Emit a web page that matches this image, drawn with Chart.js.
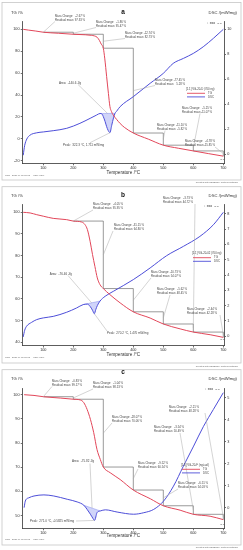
<!DOCTYPE html>
<html><head><meta charset="utf-8">
<script src="https://cdn.jsdelivr.net/npm/chart.js@4.4.1/dist/chart.umd.min.js"></script>
<style>
html,body{margin:0;padding:0;background:#fff;width:243px;height:550px;overflow:hidden;}
canvas{display:block;}
</style></head><body>
<canvas id="ca" width="243" height="185"></canvas>
<canvas id="cb" width="243" height="183"></canvas>
<canvas id="cc" width="243" height="182"></canvas>
<script>
// ---------- shared ticks ----------
const xTicks = [100, 200, 300, 400, 500, 600, 700];

// ---------- panel a ----------
const tgTempA = [33, 50, 75, 100, 150, 200, 240, 260, 270, 280, 287, 293, 300, 305, 311, 317, 322, 327, 333, 345, 356, 370, 400, 450, 500, 550, 600, 650, 700];
const tgA     = [100, 99.3, 98.4, 97.33, 96.4, 95.47, 95.0, 94.5, 94.0, 92.6, 89.8, 86.5, 82.73, 73, 57, 41.5, 29.5, 25, 21.8, 17.5, 14, 10.5, 5.28, -0.3, -5.82, -8.6, -11.07, -13.5, -15.85];
const dscTempA = [33, 38, 45, 55, 78, 100, 133, 178, 222, 256, 278, 289, 295, 300, 306, 311, 316, 322, 328, 334, 339, 345, 356, 400, 456, 500, 533, 567, 600, 633, 667, 700];
const dscA     = [-0.1, 0.7, 1.2, 1.5, 1.7, 1.77, 1.87, 2.06, 2.46, 2.86, 3.13, 3.25, 3.22, 3.0, 2.6, 2.2, 1.9, 1.71, 2.3, 2.9, 3.26, 3.45, 3.8, 4.6, 5.67, 6.47, 7.27, 7.67, 8.07, 8.6, 9.28, 10.0];
const stepTempA = [100, 200, 300, 400, 500, 600, 700];
const residA = [97.33, 95.47, 82.73, 5.28, -5.82, -11.07, -15.85];
const massChangeA = [-2.67, -1.86, -12.74, -77.45, -11.10, -5.25, -4.78];
const areaRangeA = [289, 339];
const areaA = -140.6;
const peakA = [322.3, 1.711];
const yTicksA = [-20, 0, 20, 40, 60, 80, 100];
const y2TicksA = [0, 2, 4, 6, 8, 10];

// ---------- panel b ----------
const tgTempB = [33, 56, 78, 100, 133, 178, 200, 228, 239, 247, 256, 264, 272, 280, 289, 300, 322, 356, 400, 456, 500, 556, 600, 656, 700];
const tgB     = [100, 99.7, 98.9, 98.2, 97.2, 96.6, 95.95, 95.5, 94.3, 92, 86.6, 80.5, 75, 69.7, 66.6, 64.8, 62, 58.2, 54.07, 51.2, 48.45, 46.2, 44.72, 43.5, 42.28];
const dscTempB = [33, 38, 44, 61, 78, 100, 133, 178, 211, 233, 247, 256, 264, 270, 275, 280, 289, 306, 333, 400, 456, 511, 567, 622, 667, 700];
const dscB     = [-0.04, 0.4, 0.65, 0.91, 1.09, 1.2, 1.3, 1.57, 1.85, 2.07, 2.1, 1.95, 1.7, 1.47, 1.75, 2.0, 2.3, 2.61, 2.93, 3.7, 4.46, 5.26, 5.87, 6.52, 7.28, 8.09];
const stepTempB = [200, 300, 400, 500, 600, 700];
const residB = [95.95, 64.80, 54.07, 48.45, 44.72, 42.28];
const massChangeB = [-4.05, -31.15, -10.73, -5.62, -3.73, -2.44];
const areaRangeB = [233, 289];
const areaB = -76.46;
const peakB = [270.2, 1.470];
const yTicksB = [40, 50, 60, 70, 80, 90, 100];
const y2TicksB = [0, 1, 2, 3, 4, 5, 6, 7, 8];

// ---------- panel c ----------
const tgTempC = [36, 69, 100, 158, 200, 224, 235, 246, 257, 268, 279, 290, 300, 323, 356, 400, 457, 500, 556, 600, 656, 700];
const tgC     = [100, 99.7, 99.17, 98.6, 98.13, 97.8, 96.7, 93.9, 89.8, 84.3, 77.3, 73.2, 70.06, 67.7, 64.9, 60.54, 56.9, 54.03, 52.2, 50.49, 49.7, 48.28];
const dscTempC = [36, 40, 52, 69, 102, 135, 180, 213, 235, 246, 257, 265, 271, 279, 290, 307, 346, 401, 435, 468, 501, 534, 567, 601, 634, 667, 700];
const dscC     = [0.0, 0.3, 0.45, 0.53, 0.58, 0.53, 0.38, 0.26, 0.11, -0.08, -0.3, -0.48, -0.58, -0.23, -0.15, -0.1, -0.2, -0.3, -0.23, -0.08, 0.3, 0.98, 1.89, 2.8, 3.7, 4.47, 5.23];
const stepTempC = [100, 200, 300, 400, 500, 600, 700];
const residC = [99.17, 98.13, 70.06, 60.54, 54.03, 50.49, 48.28];
const massChangeC = [-0.83, -1.04, -28.07, -9.52, -6.51, -3.54, -2.21];
const areaRangeC = [235, 290];
const areaC = -75.82;
const peakC = [271.0, -0.5825];
const yTicksC = [50, 60, 70, 80, 90, 100];
const y2TicksC = [0, 1, 2, 3, 4, 5];

// ---------- styling ----------
const FONT = '"Liberation Sans", Arial, sans-serif';
const RED = '#e2475a', BLUE = '#4d4ed8', AXIS = '#333';

const pts = (xs, ys) => xs.map((x, i) => ({x: x, y: ys[i]}));

function extras(d, g) {
  return {
    id: 'extras' + d.letter,
    afterDraw(chart) {
      const ctx = chart.ctx, sx = chart.scales.x, sy = chart.scales.y, sy2 = chart.scales.y2;
      const X = v => sx.getPixelForValue(v), Y = v => sy.getPixelForValue(v), Y2 = v => sy2.getPixelForValue(v);
      ctx.save();
      ctx.strokeStyle = '#c6c6c6'; ctx.lineWidth = 0.8;
      ctx.strokeRect(g.box[0], g.box[1], g.box[2], g.box[3]);
      const txt = (s, x, y, size, align, color, bold) => {
        ctx.font = (bold ? 'bold ' : '') + size + 'px ' + FONT;
        ctx.fillStyle = color || '#333'; ctx.textAlign = align || 'left'; ctx.textBaseline = 'middle';
        ctx.fillText(s, x, y);
      };
      const line = (x1, y1, x2, y2) => { ctx.beginPath(); ctx.moveTo(x1, y1); ctx.lineTo(x2, y2); ctx.stroke(); };
      // leaders
      ctx.strokeStyle = '#a9a9a9'; ctx.lineWidth = 0.5;
      g.ann.forEach((a, i) => {
        const t = d.stepT[i];
        const v = i === 0 ? d.resid[0] : (d.resid[i - 1] + d.resid[i]) / 2;
        line(a[2], a[3], X(t), Y(v));
      });
      const dip = pts(d.dscT, d.dsc).filter(p => p.x >= d.areaRange[0] && p.x <= d.areaRange[1]);
      const b0 = dip[0], b1 = dip[dip.length - 1];
      line(g.areaLead[0], g.areaLead[1], X((b0.x + b1.x) / 2), Y2((b0.y + b1.y) / 2));
      line(g.peakLead[0], g.peakLead[1], X(d.peak[0]), Y2(d.peak[1]));
      // annotation texts
      const fs = 2.8;
      g.ann.forEach((a, i) => {
        txt('Mass Change:', a[0], a[1], fs, 'left', '#444');
        txt(d.mc[i].toFixed(2) + ' %', a[0] + 30, a[1], fs, 'right', '#444');
        txt('Residual mass:', a[0], a[1] + 3.8, fs, 'left', '#444');
        txt(d.resid[i].toFixed(2) + ' %', a[0] + 30, a[1] + 3.8, fs, 'right', '#444');
      });
      txt('Area:  ' + d.area + ' J/g', g.areaText[0], g.areaText[1], 3, 'left', '#444');
      const pv = Math.abs(d.peak[1]) < 1 ? d.peak[1].toFixed(4) : d.peak[1].toFixed(3);
      txt('Peak:  ' + d.peak[0].toFixed(1) + ' °C, ' + pv + ' mW/mg', g.peakText[0], g.peakText[1], 3, 'left', '#444');
      // headers
      txt(d.letter, 123, g.letterY, 6.5, 'center', '#111', true);
      txt('TG /%', 11, g.titleY, 4.2, 'left', '#333');
      txt('DSC /(mW/mg)', 237, g.titleY, 4.2, 'right', '#333');
      txt('\u2193 exo', g.exo[0], g.exo[1], 3.4, 'left', '#333');
      txt('[1.1]', g.exo[0] + 10, g.exo[1] + 0.6, 2.4, 'left', '#555');
      txt('[1.1]', g.endTag[0], g.endTag[1], 2.4, 'left', '#555');
      // legend
      const L = g.leg;
      txt(d.sample, L[0], L[1], 2.8, 'left', '#444');
      ctx.lineWidth = 0.9;
      ctx.strokeStyle = RED; line(L[0] + 1, L[1] + 4, L[0] + 19, L[1] + 4);
      ctx.strokeStyle = BLUE; line(L[0] + 1, L[1] + 7.6, L[0] + 19, L[1] + 7.6);
      txt('TG', L[0] + 22, L[1] + 4, 2.8, 'left', '#444');
      txt('DSC', L[0] + 22, L[1] + 7.6, 2.8, 'left', '#444');
      // footers
      txt('Main   2020-09-05 15:08     User: User', 5, g.footL, 2.3, 'left', '#666');
      txt('Created with NETZSCH Proteus software', 238, g.footR, 2.3, 'right', '#666');
      ctx.restore();
    }
  };
}

function makeChart(id, d, g) {
  const dip = pts(d.dscT, d.dsc).filter(p => p.x >= d.areaRange[0] && p.x <= d.areaRange[1]);
  const base = [dip[0], dip[dip.length - 1]];
  const tickSet = arr => s => { s.ticks = arr.map(v => ({value: v})); };
  const axisCommon = {
    grid: {drawOnChartArea: false, drawTicks: true, tickLength: 2, color: AXIS, lineWidth: 0.7},
    border: {display: true, color: AXIS, width: 0.8},
  };
  const tickFont = {size: 3.8, family: FONT};
  new Chart(document.getElementById(id), {
    type: 'line',
    data: {datasets: [
      {label: 'TG', data: pts(d.tgT, d.tg), yAxisID: 'y', borderColor: RED, borderWidth: 1, pointRadius: 0, cubicInterpolationMode: 'monotone', fill: false, order: 1},
      {label: 'DSC', data: pts(d.dscT, d.dsc), yAxisID: 'y2', borderColor: BLUE, borderWidth: 1, pointRadius: 0, cubicInterpolationMode: 'monotone', fill: false, order: 2},
      {label: 'steps', data: pts(d.stepT, d.resid), yAxisID: 'y', stepped: true, borderColor: '#555', borderWidth: 0.6, pointRadius: 0, fill: false, order: 3},
      {label: 'area', data: dip, yAxisID: 'y2', borderWidth: 0, borderColor: 'rgba(0,0,0,0)', pointRadius: 0, cubicInterpolationMode: 'monotone', fill: '+1', backgroundColor: 'rgba(110,120,235,0.32)', order: 4},
      {label: 'baseline', data: base, yAxisID: 'y2', borderColor: 'rgba(110,120,235,0.8)', borderWidth: 0.5, pointRadius: 0, fill: false, order: 5}
    ]},
    options: {
      responsive: false, animation: false, devicePixelRatio: 1,
      layout: {padding: {left: 0, right: 0, top: g.top, bottom: 0}},
      plugins: {legend: {display: false}, tooltip: {enabled: false}},
      scales: {
        x: Object.assign({type: 'linear', min: 31.3, max: 702.3,
          afterBuildTicks: tickSet(xTicks), afterFit: s => { s.height = g.xH; },
          ticks: {font: tickFont, color: AXIS, padding: 0, maxRotation: 0, autoSkip: false},
          title: {display: true, text: 'Temperature /°C', font: {size: 4.6, family: FONT}, color: AXIS, padding: {top: 0, bottom: g.titlePad}}
        }, axisCommon),
        y: Object.assign({type: 'linear', position: 'left', min: g.yMin, max: g.yMax,
          afterBuildTicks: tickSet(d.yTicks), afterFit: s => { s.width = g.left; },
          ticks: {font: tickFont, color: AXIS, padding: 1.2, autoSkip: false}
        }, axisCommon),
        y2: Object.assign({type: 'linear', position: 'right', min: g.y2Min, max: g.y2Max,
          afterBuildTicks: tickSet(d.y2Ticks), afterFit: s => { s.width = 243 - g.right; },
          ticks: {font: tickFont, color: AXIS, padding: 1.2, autoSkip: false}
        }, axisCommon)
      }
    },
    plugins: [extras(d, g)]
  });
}

makeChart('ca',
  {letter: 'a', tgT: tgTempA, tg: tgA, dscT: dscTempA, dsc: dscA, stepT: stepTempA, resid: residA, mc: massChangeA,
   areaRange: areaRangeA, area: areaA, peak: peakA, yTicks: yTicksA, y2Ticks: y2TicksA, sample: '[1.1] VG-20-D (700 ng)'},
  {top: 21, left: 22.7, right: 224, xH: 21.7, titlePad: 9.6, yMin: -22.37, yMax: 107.58, y2Min: -0.746, y2Max: 10.67,
   box: [2, 2.5, 239, 177.5], letterY: 12.7, titleY: 13.3, exo: [207, 22.7], endTag: [220, 159.5],
   ann: [[55, 16, 55, 21.5], [96, 22.3, 96, 27.5], [125, 33, 125, 38.5], [155, 80, 155, 85.5], [157, 125, 165, 130.5], [182, 108, 200, 113.5], [185, 141.7, 215, 147]],
   areaText: [59, 82.7], areaLead: [78, 84.5], peakText: [63, 145], peakLead: [90, 142.7],
   leg: [186, 89.3], footL: 175.3, footR: 182});

makeChart('cb',
  {letter: 'b', tgT: tgTempB, tg: tgB, dscT: dscTempB, dsc: dscB, stepT: stepTempB, resid: residB, mc: massChangeB,
   areaRange: areaRangeB, area: areaB, peak: peakB, yTicks: yTicksB, y2Ticks: y2TicksB, sample: '[1.1] VG-20-02 (700 ng)'},
  {top: 19, left: 22.7, right: 224, xH: 22.5, titlePad: 10.3, yMin: 38.52, yMax: 103.83, y2Min: -0.6, y2Max: 8.633,
   box: [2, 1.7, 239, 176.3], letterY: 10.3, titleY: 11.3, exo: [204, 20.7], endTag: [220, 154],
   ann: [[93, 19.7, 93, 25], [114, 40.7, 113, 46], [151, 87.3, 151, 93], [157, 104, 170, 110], [163, 13, 195, 19], [187, 124.7, 220, 130]],
   areaText: [49.7, 88.7], areaLead: [68, 90.5], peakText: [107, 148], peakLead: [107, 146],
   leg: [192, 68.7], footL: 172.3, footR: 181});

makeChart('cc',
  {letter: 'c', tgT: tgTempC, tg: tgC, dscT: dscTempC, dsc: dscC, stepT: stepTempC, resid: residC, mc: massChangeC,
   areaRange: areaRangeC, area: areaC, peak: peakC, yTicks: yTicksC, y2Ticks: y2TicksC, sample: '[1.1] VG-20-F (ngt-sol)'},
  {top: 20.3, left: 22.7, right: 224, xH: 21.7, titlePad: 11.8, yMin: 44.7, yMax: 102.65, y2Min: -0.94, y2Max: 5.43,
   box: [2, 1.7, 239, 175.3], letterY: 4, titleY: 11.3, exo: [205, 20.7], endTag: [220, 156],
   ann: [[52, 13, 52, 18.5], [93, 15.7, 93, 21], [112, 49.7, 112, 55], [138, 95.7, 138, 101], [178, 115.3, 178, 121], [154, 59.7, 180, 65], [169, 39.7, 205, 45]],
   areaText: [72, 93], areaLead: [90, 95.5], peakText: [30, 153], peakLead: [76, 153],
   leg: [181, 97.3], footL: 171.3, footR: 179.5});
</script>
</body></html>
